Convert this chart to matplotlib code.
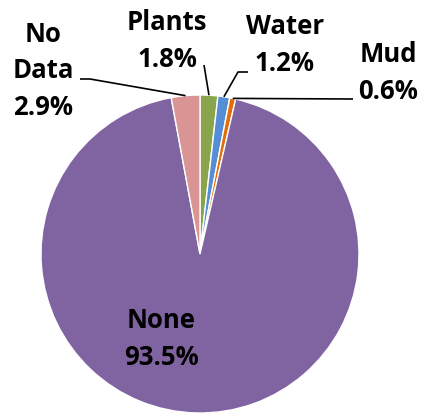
import numpy as np
import matplotlib
matplotlib.use('Agg')
import matplotlib.pyplot as plt

# data
categories = ['Plants', 'Water', 'Mud', 'None', 'No Data']
shares = [1.8, 1.2, 0.6, 93.5, 2.9]
colors = ['#88A54A', '#558ED5', '#E46C0A', '#8064A2', '#D99594']

# layout, in image pixels (x from left, y from top)
W, H = 423, 417
CX, CY, R = 200, 254, 159
label_xy = {
    'Plants': (167, 41),
    'Water': (285, 45),
    'Mud': (388, 73),
    'None': (161, 339),
    'No Data': (43, 71),
}
# leader line points from label side toward the wedge
leader_pts = {
    'Plants': [(204, 65)],
    'Water': [(248, 72), (238, 72)],
    'Mud': [(353, 99)],
    'No Data': [(80, 79), (90, 79)],
}


def px(x, y):
    return (x - CX) / R, (CY - y) / R


fig = plt.figure(figsize=(W / 100, H / 100), dpi=100)
ax = fig.add_axes([(CX - R) / W, (H - CY - R) / H, 2 * R / W, 2 * R / H])

wedges, _ = ax.pie(shares, colors=colors, startangle=90, counterclock=False,
                   radius=1, wedgeprops=dict(edgecolor='white', linewidth=1))
ax.set_xlim(-1, 1)
ax.set_ylim(-1, 1)
ax.axis('off')

font = dict(family='Open Sans', weight='bold', fontsize=18.5, color='black')

for w, cat, val in zip(wedges, categories, shares):
    text = f'{cat}\n{val:.1f}%'
    if cat == 'No Data':
        text = f'No\nData\n{val:.1f}%'
    tx, ty = px(*label_xy[cat])
    ax.text(tx, ty, text, ha='center', va='center', linespacing=1.44,
            clip_on=False, **font)
    if cat in leader_pts:
        mid = np.deg2rad((w.theta1 + w.theta2) / 2)
        pts = [px(*p) for p in leader_pts[cat]] + [(np.cos(mid), np.sin(mid))]
        xs, ys = zip(*pts)
        ax.plot(xs, ys, color='black', lw=1.2, clip_on=False,
                solid_capstyle='butt')

fig.savefig('out.png', dpi=100)
